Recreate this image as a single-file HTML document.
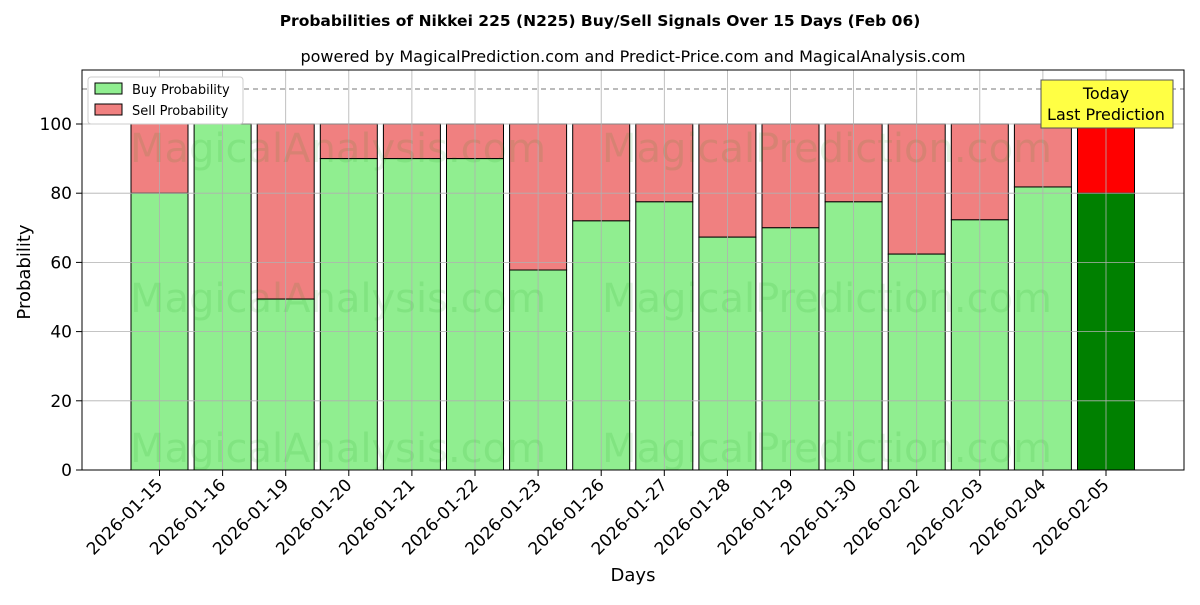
<!DOCTYPE html>
<html><head><meta charset="utf-8"><style>
body{margin:0;background:#fff;}
svg text{font-family:"DejaVu Sans","Liberation Sans",sans-serif;}
</style></head><body>
<svg id="chart" width="1200" height="600" viewBox="0 0 1200 600" xmlns="http://www.w3.org/2000/svg">
<text x="600" y="26" text-anchor="middle" font-size="15.5" font-weight="bold">Probabilities of Nikkei 225 (N225) Buy/Sell Signals Over 15 Days (Feb 06)</text>
<text x="633" y="62" text-anchor="middle" font-size="16">powered by MagicalPrediction.com and Predict-Price.com and MagicalAnalysis.com</text>
<g id="bars"></g>
<g id="grid"></g>
<g id="wm" fill="rgba(0,150,0,0.10)" font-size="40">
<text x="130" y="162">MagicalAnalysis.com</text><text x="602" y="162">MagicalPrediction.com</text>
<text x="130" y="312">MagicalAnalysis.com</text><text x="602" y="312">MagicalPrediction.com</text>
<text x="130" y="462">MagicalAnalysis.com</text><text x="602" y="462">MagicalPrediction.com</text>
</g>
<line x1="82" y1="89" x2="1184" y2="89" stroke="#777" stroke-dasharray="5,4"/>
<rect x="82" y="70" width="1102" height="400" fill="none" stroke="#000"/>
<g id="ticks"></g>
<text x="30" y="272" text-anchor="middle" font-size="18" transform="rotate(-90 30 272)">Probability</text>
<text x="633" y="581" text-anchor="middle" font-size="18">Days</text>
<g>
<rect x="88" y="77" width="155" height="47" fill="#fff" stroke="#ccc" rx="3"/>
<rect x="95" y="83" width="27" height="11" fill="#90ee90" stroke="#000"/>
<text x="132" y="94" font-size="13">Buy Probability</text>
<rect x="95" y="104" width="27" height="11" fill="#f08080" stroke="#000"/>
<text x="132" y="115" font-size="13">Sell Probability</text>
</g>
<g>
<rect x="1041" y="80" width="132" height="48" fill="#ffff44" stroke="#555"/>
<text x="1106" y="99" text-anchor="middle" font-size="16">Today</text>
<text x="1106" y="120" text-anchor="middle" font-size="16">Last Prediction</text>
</g>
</svg>
<script>
const days=["2026-01-15","2026-01-16","2026-01-19","2026-01-20","2026-01-21","2026-01-22","2026-01-23","2026-01-26","2026-01-27","2026-01-28","2026-01-29","2026-01-30","2026-02-02","2026-02-03","2026-02-04","2026-02-05"];
const buy=[80,100,49.4,90,90,90,57.8,72,77.5,67.3,70,77.5,62.4,72.3,81.8,80];
const yTicks=[0,20,40,60,80,100];
const NS="http://www.w3.org/2000/svg";
const xs=i=>159.5+i*63.1, ys=v=>470-v*3.46, bw=57;
function mk(t,a,p){const e=document.createElementNS(NS,t);for(const k in a)e.setAttribute(k,a[k]);p.appendChild(e);return e;}
const grid=document.getElementById('grid'),bars=document.getElementById('bars'),ticks=document.getElementById('ticks');
yTicks.forEach(v=>{
 const g=mk('line',{x1:82,x2:1184,y1:ys(v),y2:ys(v),stroke:'#b0b0b0','stroke-width':0.8},grid);
 
 
 mk('line',{x1:76,x2:82,y1:ys(v),y2:ys(v),stroke:'#000'},ticks);
 const t=mk('text',{x:72,y:ys(v)+6,'text-anchor':'end','font-size':17},ticks);t.textContent=v;
 
 
});
days.forEach((d,i)=>{
 const x=xs(i),last=i===days.length-1;
 const g=mk('line',{x1:x,x2:x,y1:70,y2:470,stroke:'#b0b0b0','stroke-width':0.8},grid);
 
 
 const s=mk('rect',{x:x-bw/2,y:ys(100),width:bw,height:ys(buy[i])-ys(100),fill:last?'#ff0000':'#f08080',stroke:'#000','stroke-width':1},bars);
 
 
 const b=mk('rect',{x:x-bw/2,y:ys(buy[i]),width:bw,height:ys(0)-ys(buy[i]),fill:last?'#008000':'#90ee90',stroke:'#000','stroke-width':1},bars);
 
 
 mk('line',{x1:x,x2:x,y1:470,y2:476,stroke:'#000'},ticks);
 const t=mk('text',{x:x+4,y:486,'text-anchor':'end','font-size':17,transform:`rotate(-45 ${x+4} 486)`},ticks);t.textContent=d;
 
 
});
</script>
</body></html>
